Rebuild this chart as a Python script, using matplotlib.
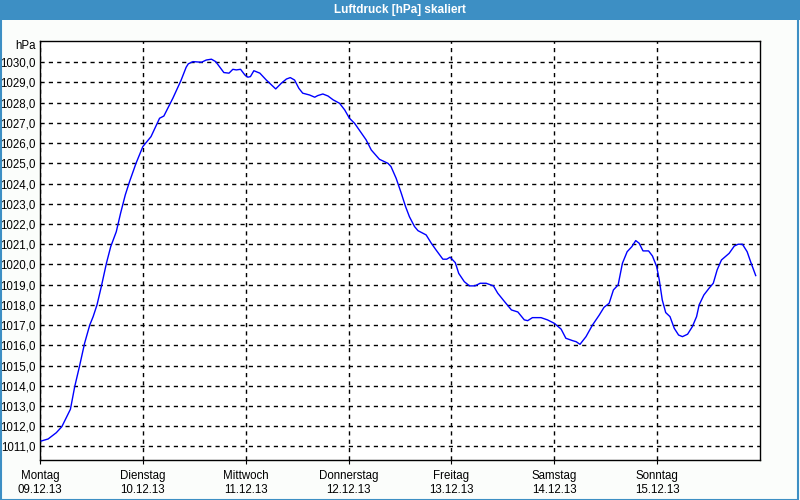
import matplotlib
matplotlib.use("Agg")
import matplotlib.pyplot as plt
from matplotlib.patches import Rectangle

plt.rcParams["font.family"] = ["Liberation Sans", "DejaVu Sans"]

# hours since Monday 09.12.13 00:00
hours = [0.3, 1.9, 3.8, 5.1, 7.1, 8.1, 9.2, 10.4, 11.6, 12.4,
         13.3, 14.3, 15.5, 16.5, 17.8, 18.8, 19.9, 20.9, 22.4, 24.0,
         25.9, 27.9, 28.9, 31.0, 32.9, 34.1, 34.6, 35.7, 37.7, 38.8,
         40.0, 41.0, 42.0, 42.9, 44.1, 45.0, 45.8, 46.8, 47.8, 48.5,
         49.1, 49.9, 51.3, 52.8, 55.0, 56.3, 57.5, 58.4, 59.4, 60.4,
         61.3, 62.9, 64.1, 64.8, 66.0, 67.2, 68.4, 69.9, 71.1, 72.2,
         73.4, 75.0, 76.1, 77.3, 79.2, 81.2, 81.9, 83.1, 84.3, 85.3,
         86.2, 87.4, 88.2, 90.1, 91.3, 92.4, 94.0, 94.9, 95.7, 96.9,
         97.7, 99.0, 100.2, 101.5, 102.7, 104.1, 105.8, 106.8, 108.4, 110.0,
         111.5, 113.0, 113.8, 114.9, 116.9, 118.4, 120.0, 121.6, 122.7, 124.3,
         125.1, 126.0, 127.4, 128.9, 130.5, 131.6, 132.8, 133.8, 134.9, 135.9,
         137.0, 138.1, 139.0, 139.8, 140.7, 142.0, 142.9, 143.9, 144.5, 145.2,
         146.0, 147.0, 148.0, 149.0, 149.9, 151.1, 152.2, 153.2, 153.8, 154.9,
         156.1, 157.1, 158.0, 159.0, 160.8, 162.0, 162.9, 163.9, 165.0, 165.8, 167.0]

pressure = [1011.27, 1011.37, 1011.68, 1011.98, 1012.84, 1013.96, 1014.95, 1016.10, 1017.00, 1017.42,
            1018.00, 1018.90, 1020.06, 1020.88, 1021.62, 1022.53, 1023.44, 1024.10, 1025.00, 1025.83,
            1026.32, 1027.23, 1027.34, 1028.22, 1029.10, 1029.75, 1029.92, 1030.03, 1030.00, 1030.11,
            1030.15, 1030.03, 1029.75, 1029.49, 1029.46, 1029.65, 1029.62, 1029.65, 1029.37, 1029.26,
            1029.29, 1029.58, 1029.46, 1029.12, 1028.68, 1028.96, 1029.17, 1029.24, 1029.12, 1028.71,
            1028.47, 1028.38, 1028.27, 1028.35, 1028.43, 1028.33, 1028.14, 1027.97, 1027.64, 1027.23,
            1026.98, 1026.49, 1026.16, 1025.66, 1025.20, 1025.00, 1024.84, 1024.26, 1023.52, 1022.86,
            1022.36, 1021.87, 1021.67, 1021.46, 1021.05, 1020.72, 1020.26, 1020.26, 1020.36, 1020.09,
            1019.56, 1019.15, 1018.94, 1018.94, 1019.07, 1019.07, 1018.94, 1018.58, 1018.16, 1017.75,
            1017.65, 1017.26, 1017.22, 1017.37, 1017.37, 1017.26, 1017.09, 1016.80, 1016.35, 1016.23,
            1016.18, 1016.05, 1016.43, 1017.00, 1017.50, 1017.88, 1018.08, 1018.74, 1018.99, 1020.06,
            1020.63, 1020.88, 1021.18, 1021.05, 1020.67, 1020.67, 1020.42, 1019.89, 1019.23, 1018.24,
            1017.62, 1017.42, 1016.84, 1016.51, 1016.43, 1016.55, 1016.92, 1017.42, 1018.00, 1018.49,
            1018.82, 1019.07, 1019.73, 1020.22, 1020.55, 1020.91, 1021.00, 1021.00, 1020.63, 1020.14, 1019.45]

day_names = ["Montag", "Dienstag", "Mittwoch", "Donnerstag", "Freitag", "Samstag", "Sonntag"]
day_dates = ["09.12.13", "10.12.13", "11.12.13", "12.12.13", "13.12.13", "14.12.13", "15.12.13"]
y_ticks = list(range(1011, 1031))

title = "Luftdruck [hPa] skaliert"
unit = "hPa"

W, H = 800, 500
fig = plt.figure(figsize=(8, 5), dpi=100)
fig.patch.set_facecolor("#fbfdfb")

# title bar and frame
fig.patches.append(Rectangle((0, 480 / H), 1, 20 / H, transform=fig.transFigure,
                             facecolor="#3d8fc4", edgecolor="none", zorder=0))
fig.patches.append(Rectangle((0.5 / W, 0.5 / H), 1 - 2.5 / W, 1 - 1 / H, transform=fig.transFigure,
                             facecolor="none", edgecolor="#3d8fc4", lw=1.5, zorder=0))
fig.text(0.5, 490 / H, title, color="white", fontweight="bold", fontsize=8.5,
         ha="center", va="center")

ax = fig.add_axes([40 / W, 40 / H, 720 / W, 419 / H])
ax.set_facecolor("white")
ax.plot(hours, pressure, color="#0000ff", lw=1.0, zorder=3)

ax.set_xlim(0, 168)
ax.set_ylim(1010.33, 1031.05)
ax.set_yticks(y_ticks)
ax.set_yticklabels([f"{v:.1f}".replace(".", ",") for v in y_ticks], fontsize=8.3)
ax.set_xticks([24 * i for i in range(len(day_names))])
ax.set_xticklabels([f"{n}\n{d}" for n, d in zip(day_names, day_dates)], fontsize=8.3,
                   linespacing=1.3)
ax.tick_params(axis="y", length=0, pad=3)
ax.tick_params(axis="x", length=3, pad=4, color="black")
ax.grid(True, color="black", linestyle=(0, (3, 3)), lw=1.0, zorder=1)
for s in ax.spines.values():
    s.set_color("black")
    s.set_linewidth(1.0)

fig.text(36 / W, (500 - 46) / H, unit, fontsize=8.3, ha="right", va="center")

fig.savefig("out.png", dpi=100, facecolor=fig.get_facecolor())
